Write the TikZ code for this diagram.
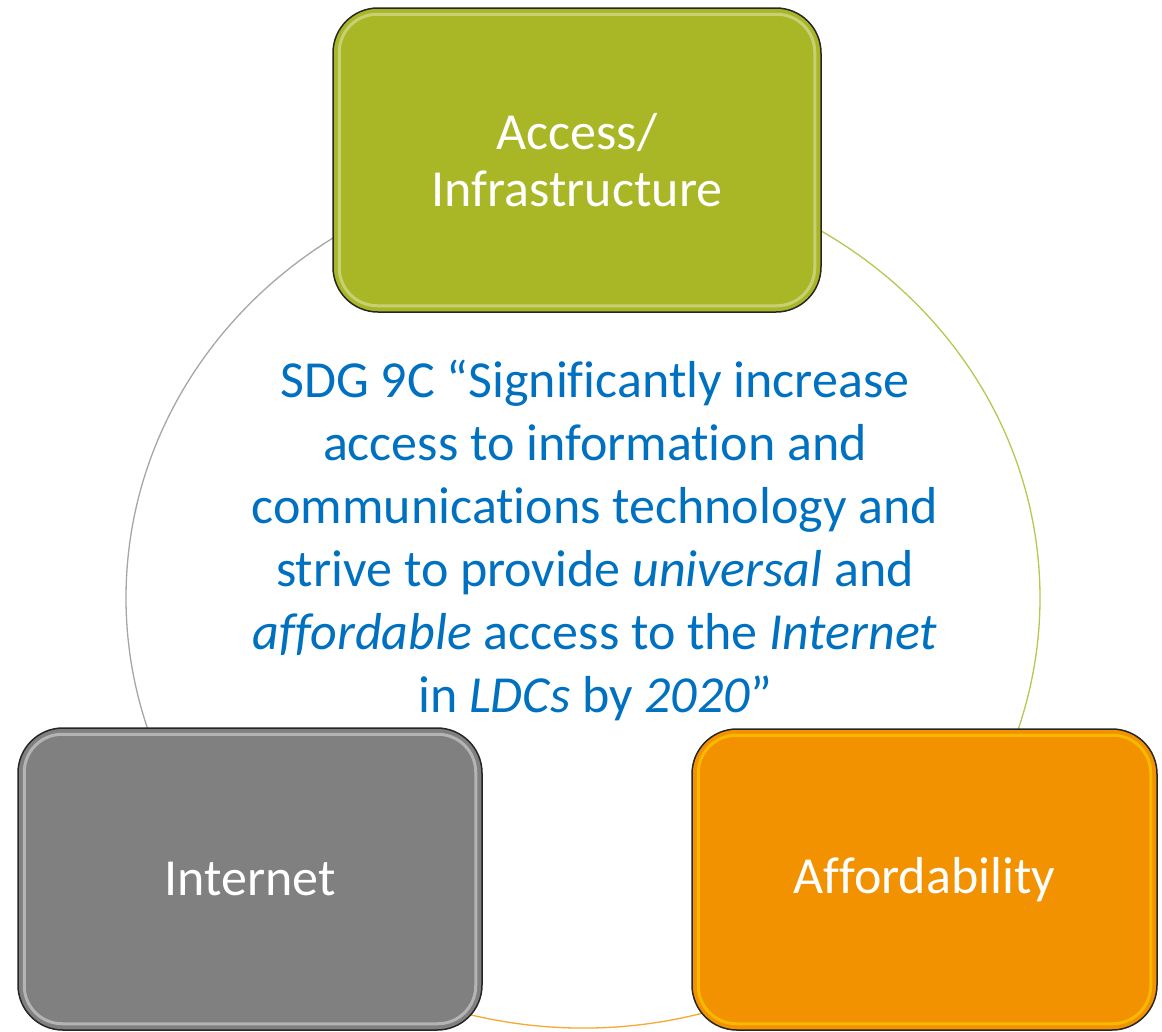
\documentclass[tikz,border=0pt]{standalone}
\usepackage{fontspec}
\setmainfont[Ligatures={NoCommon}]{Carlito}
\usetikzlibrary{positioning,calc}
\definecolor{sdgblue}{RGB}{0,112,192}
\definecolor{boxgreen}{RGB}{169,183,39}
\definecolor{boxgray}{RGB}{128,128,128}
\definecolor{boxorange}{RGB}{243,146,0}
\tikzstyle{pillar} = [draw=black!85, line width=1.5pt, rounded corners=45pt, inner sep=0pt, text=white, align=center, font=\fontsize{52}{57}\selectfont]
\tikzstyle{gloss} = [rounded corners=38pt, line width=3pt, opacity=0.55]
\tikzstyle{ring} = [line width=1.3pt]
\tikzset{>=latex}

\begin{document}
\begin{tikzpicture}[x=1pt,y=-1pt]
    \useasboundingbox (0,0) rectangle (1162,1031);
    \coordinate (ctr) at (583,598);
    \draw [ring, black!35] (ctr) ++(90:457pt and 430pt) arc [start angle=90, end angle=210, x radius=457pt, y radius=430pt];
    \draw [ring, boxgreen!80] (ctr) ++(90:457pt and 430pt) arc [start angle=90, end angle=-30, x radius=457pt, y radius=430pt];
    \draw [ring, boxorange!80] (ctr) ++(210:457pt and 430pt) arc [start angle=210, end angle=330, x radius=457pt, y radius=430pt];

    \node [pillar, fill=boxgreen, minimum width=488pt, minimum height=304pt] (access) at (577,160) {Access/\\Infrastructure};
    \draw [gloss, boxgreen!35!white] ($(access.north west)+(7,7)$) rectangle ($(access.south east)+(-7,-7)$);
    \node [pillar, fill=boxgray, minimum width=464pt, minimum height=302pt] (internet) at (250,879) {Internet};
    \draw [gloss, white!75!boxgray] ($(internet.north west)+(7,7)$) rectangle ($(internet.south east)+(-7,-7)$);
    \node [pillar, fill=boxorange, minimum width=465pt, minimum height=301pt] (afford) at (924.5,879.5) {Affordability};
    \draw [gloss, boxorange!35!yellow] ($(afford.north west)+(7,7)$) rectangle ($(afford.south east)+(-7,-7)$);

    \node [text=sdgblue, align=center, font=\fontsize{52}{63}\selectfont] (goal) at (595,540)
      {SDG 9C “Significantly increase\\access to information and\\communications technology and\\strive to provide \textit{universal} and\\\textit{affordable} access to the \textit{Internet}\\in \textit{LDCs} by \textit{2020}”};
\end{tikzpicture}
\end{document}
